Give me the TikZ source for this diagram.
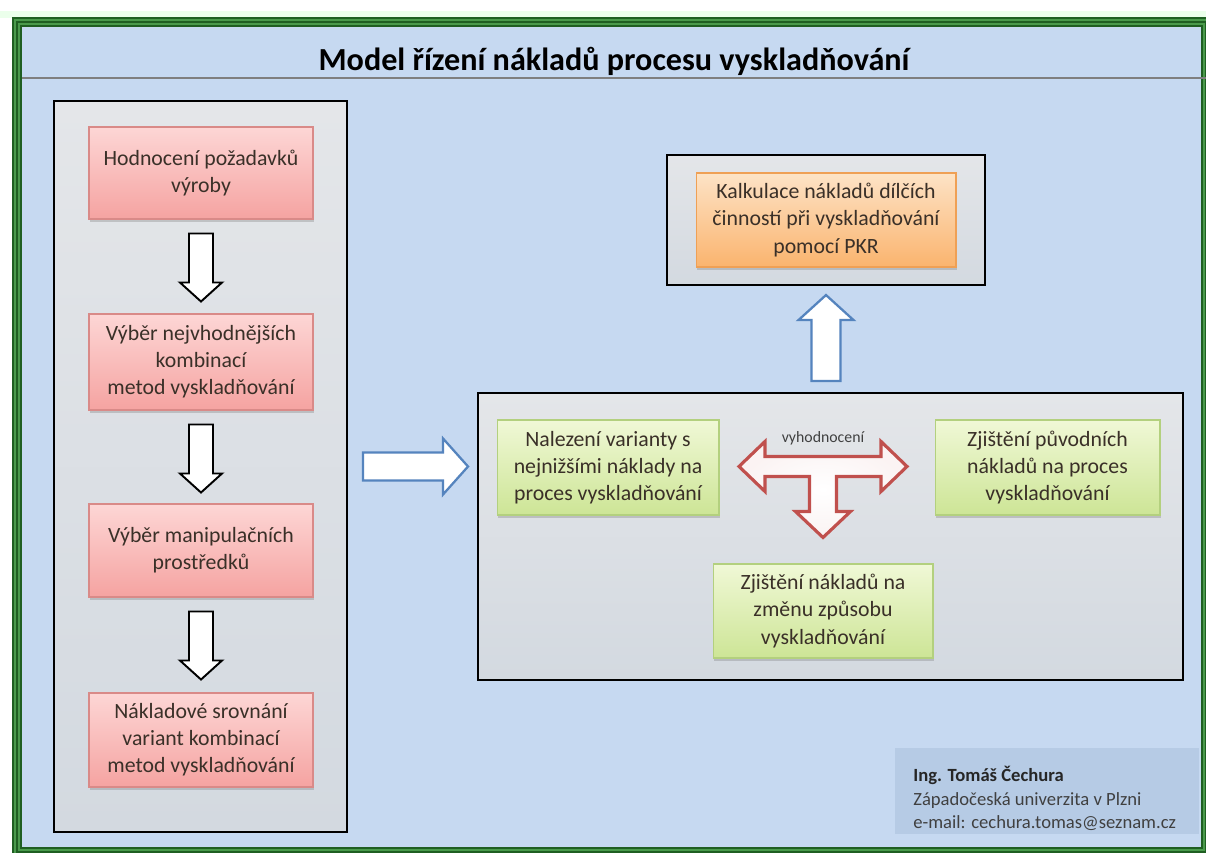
\documentclass[tikz,border=0pt]{standalone}
\usepackage{fontspec}
\setmainfont{Carlito}
\usetikzlibrary{calc,shadows}

\definecolor{pagebg}{HTML}{C6D9F1}
\definecolor{framedark}{HTML}{1F5F22}
\definecolor{framemid}{HTML}{4A9A4C}
\definecolor{rulegray}{HTML}{7F7F7F}
\definecolor{paneltop}{HTML}{E4E6E9}
\definecolor{panelbot}{HTML}{D3D9E0}
\definecolor{redtop}{HTML}{FDD6D5}
\definecolor{redbot}{HTML}{F5A3A1}
\definecolor{redline}{HTML}{D98A88}
\definecolor{orangetop}{HTML}{FDE3C6}
\definecolor{orangebot}{HTML}{FAB46E}
\definecolor{orangeline}{HTML}{EFA055}
\definecolor{greentop}{HTML}{F0F8D6}
\definecolor{greenbot}{HTML}{CDE596}
\definecolor{greenline}{HTML}{B3D07E}
\definecolor{boxtext}{HTML}{3A3028}
\definecolor{bluearrow}{HTML}{5584BE}
\definecolor{redarrow}{HTML}{C0504D}
\definecolor{creditbg}{HTML}{B6CBE5}
\definecolor{credittext}{HTML}{404040}

% down block arrow hanging below a node
\newcommand\blockdown[1]{%
  \draw[downarrow] ($(#1.south)+(-12,14)$) -- ++(24,0) -- ++(0,49) -- ++(9,0)
    -- ++(-21,19) -- ++(-21,-19) -- ++(9,0) -- cycle;}

\begin{document}
\begin{tikzpicture}[x=0.02cm, y=-0.02cm,
  panel/.style={draw=black, line width=1.2pt, top color=paneltop, bottom color=panelbot,
    inner sep=0pt},
  box/.style={align=center, text=boxtext, font=\fontsize{12.4}{15.4}\selectfont,
    line width=0.6pt, inner sep=2pt,
    drop shadow={shadow xshift=0.6pt, shadow yshift=-1.6pt, opacity=0.35}},
  redbox/.style={box, draw=redline, top color=redtop, bottom color=redbot,
    minimum width=4.48cm},
  orangebox/.style={box, draw=orangeline, top color=orangetop, bottom color=orangebot},
  greenbox/.style={box, draw=greenline, top color=greentop, bottom color=greenbot},
  downarrow/.style={draw=black, line width=1.1pt, fill=white, line join=miter},
  bluearrow/.style={draw=bluearrow, line width=1.3pt, fill=white, line join=miter},
  redtee/.style={draw=redarrow, line width=1.8pt, inner color=white, outer color=white!93!redarrow, line join=miter},
  credit/.style={anchor=base west, inner sep=0pt, font=\fontsize{10.6}{12}\selectfont, text=credittext},
]
\useasboundingbox (0,0) rectangle (1206,852);
\fill[white] (0,0) rectangle (1206,852);
\fill[green!8!white] (0,11) rectangle (1206,18);

% page background and green double frame
\fill[pagebg] (17,22) rectangle (1206,852);
\draw[framedark, line width=0.2cm] (17,22) rectangle (1206,852);
\draw[framemid, line width=0.14cm] (17,22) rectangle (1206,852);
\draw[framedark, line width=0.025cm] (17,22) rectangle (1206,852);

% title with rule
\node[anchor=base, font=\fontsize{18.3}{21}\selectfont\bfseries, text=black] (title)
  at (614,70) {Model řízení nákladů procesu vyskladňování};
\draw[rulegray, line width=0.045cm] (22,78) -- (1206,78);

% left column
\node[panel, minimum width=5.86cm, minimum height=14.62cm] (left) at (200.5,466.5) {};
\node[redbox, minimum height=1.84cm] (r1) at (201,173) {Hodnocení požadavků\\výroby};
\node[redbox, minimum height=1.92cm] (r2) at (201,362) {Výběr nejvhodnějších\\kombinací\\metod vyskladňování};
\node[redbox, minimum height=1.86cm] (r3) at (201,550.5) {Výběr manipulačních\\prostředků};
\node[redbox, minimum height=1.88cm] (r4) at (201,740) {Nákladové srovnání\\variant kombinací\\metod vyskladňování};
\blockdown{r1}
\blockdown{r2}
\blockdown{r3}

% upper right
\node[panel, minimum width=6.36cm, minimum height=2.6cm] (top) at (826,220) {};
\node[orangebox, minimum width=5.2cm, minimum height=1.88cm] (calc) at (826,220)
  {Kalkulace nákladů dílčích\\činností při vyskladňování\\pomocí PKR};

% lower right
\node[panel, minimum width=14.1cm, minimum height=5.74cm] (mid) at (830.5,536.5) {};
\node[greenbox, minimum width=4.44cm, minimum height=1.9cm] (g1) at (608,467.5)
  {Nalezení varianty s\\nejnižšími náklady na\\proces vyskladňování};
\node[greenbox, minimum width=4.5cm, minimum height=1.9cm] (g2) at (1047.5,467.5)
  {Zjištění původních\\nákladů na proces\\vyskladňování};
\node[greenbox, minimum width=4.4cm, minimum height=1.88cm] (g3) at (823,611)
  {Zjištění nákladů na\\změnu způsobu\\vyskladňování};

% T-shaped arrow between the green boxes
\coordinate (tc) at ($(g3.north)+(0,-97)$);
\draw[redtee, shift={(tc)}] (-84,0) -- (-58,-25) -- (-58,-10) -- (58,-10) -- (58,-25)
  -- (84,0) -- (58,25) -- (58,10) -- (13.5,10) -- (13.5,45) -- (27.5,45) -- (0,71)
  -- (-27.5,45) -- (-13.5,45) -- (-13.5,10) -- (-58,10) -- (-58,25) -- cycle;
\node[font=\fontsize{9}{10}\selectfont, text=credittext] (eval) at ($(tc)+(0,-28)$) {vyhodnocení};

% left column to lower right panel
\draw[bluearrow] ($(left.east)+(15,-14)$) -- ++(80,0) -- ++(0,-14) -- ++(25,28)
  -- ++(-25,28) -- ++(0,-14) -- ++(-80,0) -- cycle;
% lower right panel to calculation
\draw[bluearrow] ($(top.south)+(0,9)$) -- ++(27.5,25) -- ++(-13,0) -- ++(0,61)
  -- ++(-29,0) -- ++(0,-61) -- ++(-13,0) -- cycle;

% author block
\fill[creditbg] (895,748) rectangle (1199,834);
\node[credit, font=\fontsize{10.6}{12}\selectfont\bfseries, text=black!85] (author)
  at (913,781) {Ing. Tomáš Čechura};
\node[credit] (uni) at (913,805) {Západočeská univerzita v Plzni};
\node[credit] (mail) at (913,828) {e-mail: cechura.tomas@seznam.cz};
\end{tikzpicture}
\end{document}
